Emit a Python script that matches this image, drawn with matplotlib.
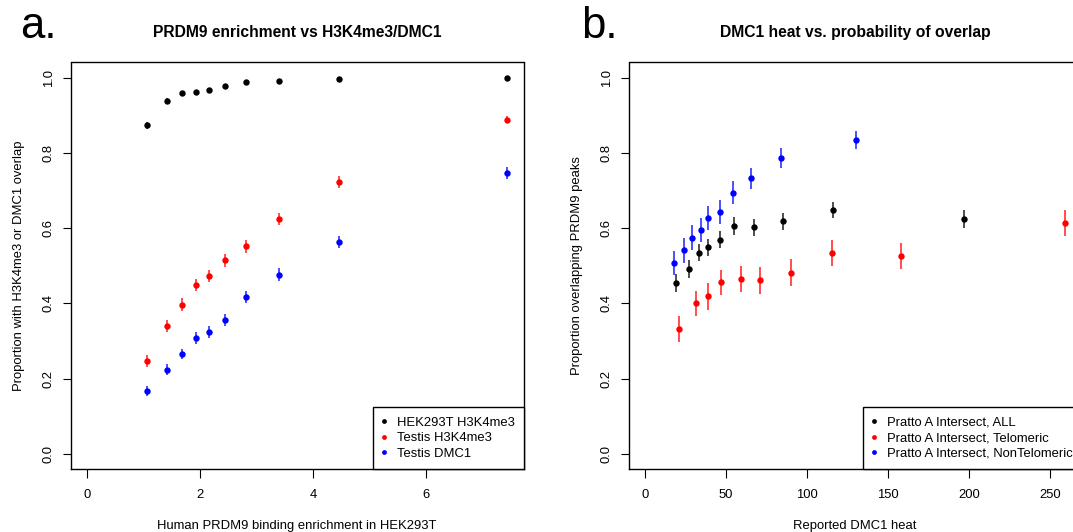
import matplotlib
matplotlib.use("Agg")
import matplotlib.pyplot as plt
import numpy as np

plt.rcParams['font.family'] = ['Liberation Sans', 'DejaVu Sans']

# ---------------- Panel a data ----------------
a_enrichment = [1.06, 1.42, 1.68, 1.92, 2.15, 2.43, 2.81, 3.40, 4.46, 7.43]
a_hek_h3k4me3 = [0.873, 0.939, 0.958, 0.962, 0.966, 0.978, 0.988, 0.992, 0.996, 1.000]
a_hek_err = [0.010, 0.006, 0.005, 0.005, 0.005, 0.004, 0.004, 0.004, 0.003, 0.002]
a_testis_h3k4me3 = [0.247, 0.341, 0.397, 0.449, 0.473, 0.515, 0.552, 0.624, 0.722, 0.888]
a_testis_h3k4me3_err = [0.015, 0.016, 0.017, 0.017, 0.017, 0.017, 0.017, 0.017, 0.016, 0.010]
a_testis_dmc1 = [0.168, 0.224, 0.265, 0.309, 0.323, 0.356, 0.417, 0.476, 0.563, 0.747]
a_testis_dmc1_err = [0.013, 0.014, 0.014, 0.016, 0.016, 0.017, 0.017, 0.017, 0.017, 0.016]
a_labels = ["HEK293T H3K4me3", "Testis H3K4me3", "Testis DMC1"]

# ---------------- Panel b data ----------------
b_all_heat = [18.9, 26.9, 33.0, 38.9, 46.0, 55.0, 67.0, 85.1, 116.2, 197.1]
b_all_prop = [0.454, 0.491, 0.535, 0.549, 0.569, 0.606, 0.602, 0.618, 0.648, 0.624]
b_all_err = [0.023, 0.023, 0.023, 0.023, 0.023, 0.023, 0.023, 0.023, 0.022, 0.023]
b_tel_heat = [20.8, 31.1, 38.9, 47.1, 59.0, 71.0, 90.1, 115.1, 158.2, 259.2]
b_tel_prop = [0.332, 0.400, 0.419, 0.456, 0.465, 0.461, 0.482, 0.534, 0.526, 0.613]
b_tel_err = [0.035, 0.034, 0.036, 0.033, 0.035, 0.035, 0.036, 0.035, 0.035, 0.035]
b_nontel_heat = [17.9, 24.0, 29.0, 34.2, 38.9, 46.0, 54.0, 65.1, 84.0, 130.3]
b_nontel_prop = [0.508, 0.541, 0.574, 0.595, 0.627, 0.644, 0.694, 0.732, 0.786, 0.833]
b_nontel_err = [0.032, 0.034, 0.033, 0.032, 0.031, 0.032, 0.031, 0.029, 0.027, 0.024]
b_labels = ["Pratto A Intersect, ALL", "Pratto A Intersect, Telomeric",
            "Pratto A Intersect, NonTelomeric"]

colors = ["black", "#ff0000", "#0000ff"]

W, H = 1073, 532
fig = plt.figure(figsize=(W / 100, H / 100), dpi=100)

FS = 9.36
def px(v):
    return v * 72 / 100

def style_axes(ax):
    for s in ax.spines.values():
        s.set_linewidth(1.0)
        s.set_color("black")
    ax.tick_params(direction="out", length=px(8.5), width=0.8, labelsize=FS,
                   color="black")
    ax.tick_params(axis="x", pad=px(11))
    ax.tick_params(axis="y", pad=px(7))
    ax.set_ylim(-0.04, 1.04)
    ax.set_yticks([0.0, 0.2, 0.4, 0.6, 0.8, 1.0])
    ax.set_yticklabels(["0.0", "0.2", "0.4", "0.6", "0.8", "1.0"],
                       rotation=90, va="center")

def series(ax, x, y, e, c, label):
    ax.errorbar(x, y, yerr=e, fmt="none", ecolor=c, elinewidth=1.3,
                alpha=0.75, capsize=0)
    ax.plot(x, y, "o", color=c, markersize=4.6, markeredgewidth=0, label=label)

def legend(ax):
    leg = ax.legend(loc="lower right", bbox_to_anchor=(1, 0), borderaxespad=0,
                    fontsize=FS, frameon=True, fancybox=False, framealpha=1,
                    borderpad=0.7, handlelength=0.4, handletextpad=0.75,
                    labelspacing=0.27, markerscale=0.75)
    leg.get_frame().set_edgecolor("black")
    leg.get_frame().set_linewidth(1.0)
    return leg

def labels(ax, title, xlabel, ylabel):
    ax.set_title(title, fontsize=FS * 1.2, fontweight="bold", y=1.0635,
                 pad=0, va="baseline")
    ax.set_xlabel(xlabel, fontsize=FS)
    ax.set_ylabel(ylabel, fontsize=FS)
    ax.xaxis.label.set_va("baseline")
    ax.yaxis.label.set_va("baseline")
    ax.xaxis.set_label_coords(0.5, -0.1476)
    ax.yaxis.set_label_coords(-0.108, 0.5)

# ---- Panel a ----
axa = fig.add_axes([70.5 / W, (H - 469) / H, 453.2 / W, 406.5 / H])
series(axa, a_enrichment, a_hek_h3k4me3, a_hek_err, colors[0], a_labels[0])
series(axa, a_enrichment, a_testis_h3k4me3, a_testis_h3k4me3_err, colors[1], a_labels[1])
series(axa, a_enrichment, a_testis_dmc1, a_testis_dmc1_err, colors[2], a_labels[2])
xmax_a = max(a_enrichment)
axa.set_xlim(-0.04 * xmax_a, 1.04 * xmax_a)
axa.set_xticks([0, 2, 4, 6])
style_axes(axa)
legend(axa)
labels(axa, "PRDM9 enrichment vs H3K4me3/DMC1",
       "Human PRDM9 binding enrichment in HEK293T",
       "Proportion with H3K4me3 or DMC1 overlap")

# ---- Panel b ----
axb = fig.add_axes([628.5 / W, (H - 469) / H, 453.0 / W, 406.5 / H])
series(axb, b_all_heat, b_all_prop, b_all_err, colors[0], b_labels[0])
series(axb, b_tel_heat, b_tel_prop, b_tel_err, colors[1], b_labels[1])
series(axb, b_nontel_heat, b_nontel_prop, b_nontel_err, colors[2], b_labels[2])
xmax_b = max(b_all_heat + b_tel_heat + b_nontel_heat)
axb.set_xlim(-0.04 * xmax_b, 1.04 * xmax_b)
axb.set_xticks([0, 50, 100, 150, 200, 250])
style_axes(axb)
legend(axb)
labels(axb, "DMC1 heat vs. probability of overlap", "Reported DMC1 heat",
       "Proportion overlapping PRDM9 peaks")

# panel letters
fig.text(20 / W, 1 - 37.7 / H, "a.", fontsize=31.5, ha="left", va="baseline")
fig.text(580.7 / W, 1 - 37.7 / H, "b.", fontsize=31.5, ha="left", va="baseline")

fig.savefig("out.png", dpi=100)
